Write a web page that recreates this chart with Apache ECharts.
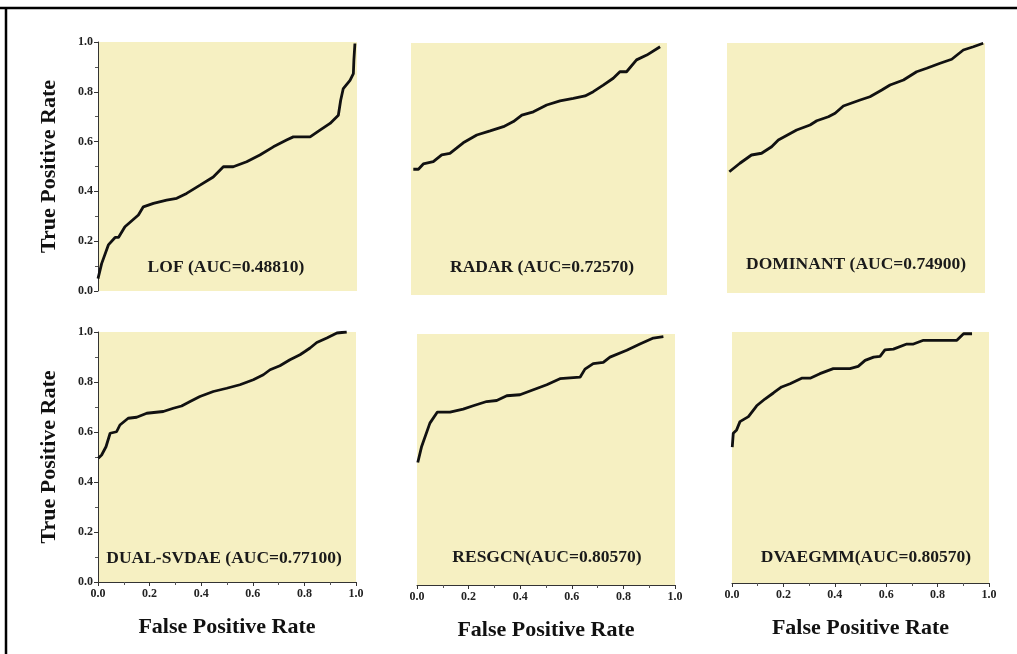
<!DOCTYPE html>
<html>
<head>
<meta charset="utf-8">
<script src="https://cdn.jsdelivr.net/npm/echarts@6/dist/echarts.min.js"></script>
<style>
html,body{margin:0;padding:0;background:#fff;}
#chart{width:1017px;height:654px;}
</style>
</head>
<body>
<div id="chart"></div>
<script>
// ---- Data (FPR, TPR) ----
const lofFpr   = [0,0.014,0.04,0.066,0.079,0.104,0.156,0.175,0.214,0.265,0.304,0.342,0.394,0.445,0.484,0.522,0.574,0.625,0.677,0.728,0.754,0.819,0.857,0.896,0.928,0.937,0.947,0.973,0.986,0.988,0.992];
const lofTpr   = [0.05,0.11,0.185,0.215,0.215,0.258,0.305,0.338,0.352,0.365,0.372,0.392,0.425,0.458,0.499,0.499,0.519,0.546,0.579,0.606,0.619,0.619,0.646,0.673,0.706,0.766,0.813,0.846,0.873,0.927,0.994];

const radarFpr = [0.009,0.029,0.048,0.087,0.12,0.152,0.204,0.257,0.309,0.361,0.4,0.433,0.478,0.53,0.582,0.634,0.68,0.712,0.751,0.79,0.816,0.842,0.881,0.921,0.973];
const radarTpr = [0.499,0.499,0.52,0.529,0.556,0.562,0.604,0.635,0.651,0.668,0.688,0.714,0.727,0.754,0.77,0.78,0.79,0.807,0.833,0.86,0.886,0.886,0.933,0.952,0.985];

const domFpr   = [0.009,0.05,0.095,0.134,0.173,0.199,0.27,0.322,0.348,0.393,0.419,0.451,0.516,0.554,0.6,0.632,0.684,0.735,0.774,0.826,0.871,0.916,0.955,0.993];
const domTpr   = [0.485,0.519,0.552,0.559,0.585,0.612,0.652,0.672,0.689,0.705,0.719,0.748,0.772,0.785,0.812,0.832,0.852,0.885,0.899,0.919,0.935,0.972,0.985,0.999];

const dualFpr  = [0.001,0.014,0.031,0.047,0.072,0.085,0.117,0.15,0.189,0.253,0.292,0.324,0.357,0.395,0.447,0.499,0.55,0.602,0.641,0.667,0.705,0.744,0.783,0.802,0.822,0.848,0.887,0.926,0.964];
const dualTpr  = [0.495,0.508,0.541,0.595,0.601,0.628,0.655,0.659,0.675,0.682,0.695,0.704,0.722,0.742,0.762,0.775,0.789,0.809,0.829,0.849,0.865,0.889,0.909,0.922,0.936,0.958,0.976,0.996,1.0];

const resFpr   = [0.003,0.018,0.05,0.079,0.128,0.179,0.218,0.27,0.309,0.348,0.399,0.451,0.503,0.554,0.632,0.651,0.683,0.722,0.748,0.813,0.864,0.916,0.955];
const resTpr   = [0.488,0.552,0.645,0.689,0.689,0.701,0.714,0.731,0.735,0.754,0.758,0.778,0.798,0.822,0.828,0.86,0.882,0.887,0.908,0.935,0.96,0.984,0.99];

const dvaFpr   = [0.001,0.005,0.018,0.031,0.064,0.096,0.128,0.161,0.193,0.226,0.271,0.304,0.342,0.394,0.459,0.491,0.518,0.551,0.576,0.595,0.628,0.68,0.706,0.745,0.875,0.901,0.934];
const dvaTpr   = [0.541,0.597,0.61,0.643,0.663,0.706,0.733,0.757,0.781,0.794,0.816,0.816,0.834,0.854,0.854,0.863,0.887,0.9,0.903,0.929,0.932,0.952,0.952,0.967,0.967,0.993,0.993];

const panelLabels = ['LOF (AUC=0.48810)','RADAR (AUC=0.72570)','DOMINANT (AUC=0.74900)','DUAL-SVDAE (AUC=0.77100)','RESGCN(AUC=0.80570)','DVAEGMM(AUC=0.80570)'];
const xTitle = 'False Positive Rate';
const yTitle = 'True Positive Rate';

// ---- Layout ----
const FONT = '"Liberation Serif","Times New Roman",serif';
const grids = [
  {left:98,  top:42,  width:259, height:249},
  {left:411, top:43,  width:256, height:252},
  {left:727, top:43,  width:258, height:250},
  {left:98,  top:332, width:258, height:250},
  {left:417, top:334, width:258, height:251},
  {left:732, top:332, width:257, height:251}
];
const showX = [false,false,false,true,true,true];
const showY = [true,false,false,true,false,false];
const labelPos = [[226,267],[542,267],[856,264],[224,558],[547,557],[866,557]];
const xs = [lofFpr,radarFpr,domFpr,dualFpr,resFpr,dvaFpr];
const ys = [lofTpr,radarTpr,domTpr,dualTpr,resTpr,dvaTpr];

const axisCommon = (show) => ({
  type:'value', min:0, max:1, interval:0.2,
  splitLine:{show:false},
  axisLine:{show:show, onZero:false, lineStyle:{color:'#333', width:1}},
  axisTick:{show:show, length:4, lineStyle:{color:'#333'}},
  minorTick:{show:show, splitNumber:2, length:3, lineStyle:{color:'#555'}},
  axisLabel:{show:show, fontFamily:FONT, fontWeight:'bold', fontSize:12, color:'#222',
    formatter:(v)=>v.toFixed(1)}
});

const option = {
  backgroundColor:'#fff',
  animation:false,
  grid: grids.map(g => Object.assign({show:true, backgroundColor:'#f6f0c2', borderWidth:0}, g)),
  xAxis: grids.map((g,i) => Object.assign(axisCommon(showX[i]), {
    gridIndex:i,
    name: showX[i] ? xTitle : '',
    nameLocation:'middle', nameGap:34,
    nameTextStyle:{fontFamily:FONT, fontWeight:'bold', fontSize:22, color:'#111'},
    axisLabel:Object.assign(axisCommon(showX[i]).axisLabel, {margin:6})
  })),
  yAxis: grids.map((g,i) => Object.assign(axisCommon(showY[i]), {
    gridIndex:i,
    name: showY[i] ? yTitle : '',
    nameLocation:'middle', nameGap:38, nameRotate:90,
    nameTextStyle:{fontFamily:FONT, fontWeight:'bold', fontSize:22, color:'#111'},
    axisLabel:Object.assign(axisCommon(showY[i]).axisLabel, {margin:5})
  })),
  series: xs.map((xv,i) => ({
    type:'line', xAxisIndex:i, yAxisIndex:i,
    data: xv.map((x,k)=>[x, ys[i][k]]),
    showSymbol:false, symbol:'none',
    lineStyle:{color:'#111', width:2.8},
    z:3
  })),
  graphic: [
    {type:'line', shape:{x1:0,y1:8,x2:1017,y2:8}, style:{stroke:'#000', lineWidth:2.5}, z:100},
    {type:'line', shape:{x1:6,y1:7,x2:6,y2:654}, style:{stroke:'#000', lineWidth:2.5}, z:100}
  ].concat(panelLabels.map((t,i)=>({
    type:'text', x:labelPos[i][0], y:labelPos[i][1], z:50,
    style:{text:t, fontFamily:FONT, fontWeight:'bold', fontSize:17.5, fill:'#1a1a1a',
      align:'center', verticalAlign:'middle'}
  })))
};

const chart = echarts.init(document.getElementById('chart'), null, {renderer:'canvas'});
chart.setOption(option);
</script>
</body>
</html>
